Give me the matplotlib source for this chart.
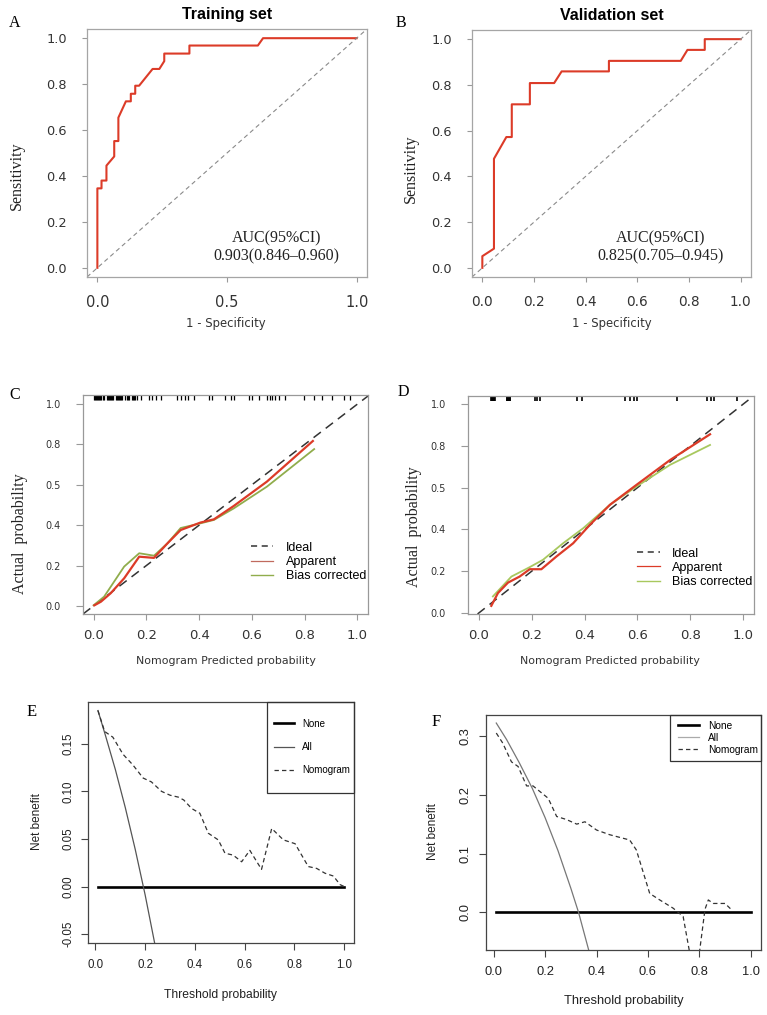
import matplotlib
matplotlib.use('Agg')
import matplotlib.pyplot as plt
from matplotlib.patches import Rectangle
from matplotlib.lines import Line2D

# ---------------- data ----------------
# ROC, training set
fpr_train = [0, 0, 0.016, 0.016, 0.035, 0.035, 0.065, 0.065, 0.081, 0.081, 0.11, 0.129, 0.129,
             0.146, 0.146, 0.161, 0.213, 0.239, 0.258, 0.258, 0.355, 0.355, 0.619, 0.639, 1.0]
tpr_train = [0, 0.346, 0.346, 0.38, 0.38, 0.445, 0.485, 0.552, 0.552, 0.654, 0.725, 0.725, 0.758,
             0.758, 0.793, 0.793, 0.866, 0.866, 0.9, 0.933, 0.933, 0.968, 0.968, 1.0, 1.0]
auc_train = "0.903(0.846\u20130.960)"
# ROC, validation set
fpr_valid = [0, 0, 0.045, 0.045, 0.093, 0.114, 0.114, 0.184, 0.184, 0.278, 0.307, 0.49, 0.49,
             0.768, 0.794, 0.861, 0.861, 1.0]
tpr_valid = [0, 0.051, 0.084, 0.477, 0.572, 0.572, 0.715, 0.715, 0.808, 0.808, 0.859, 0.859, 0.905,
             0.905, 0.953, 0.953, 1.0, 1.0]
auc_valid = "0.825(0.705\u20130.945)"

# Calibration, training
predC_app = [0.003, 0.028, 0.065, 0.116, 0.173, 0.229, 0.28, 0.33, 0.405, 0.456, 0.531, 0.657, 0.831]
obsC_app = [0.003, 0.021, 0.063, 0.137, 0.244, 0.238, 0.31, 0.376, 0.413, 0.429, 0.495, 0.616, 0.817]
predC_bc = [0.0, 0.04, 0.116, 0.173, 0.229, 0.28, 0.33, 0.405, 0.456, 0.531, 0.657, 0.836]
obsC_bc = [0.003, 0.046, 0.195, 0.261, 0.249, 0.31, 0.386, 0.409, 0.426, 0.483, 0.591, 0.777]
rugC = [0.002, 0.006, 0.01, 0.014, 0.018, 0.022, 0.026, 0.03, 0.034, 0.038, 0.05, 0.054, 0.058,
        0.062, 0.066, 0.07, 0.074, 0.084, 0.088, 0.092, 0.096, 0.1, 0.104, 0.108, 0.121, 0.125,
        0.129, 0.133, 0.146, 0.15, 0.154, 0.158, 0.165, 0.178, 0.21, 0.222, 0.235, 0.254, 0.317,
        0.33, 0.348, 0.357, 0.38, 0.437, 0.45, 0.5, 0.521, 0.531, 0.588, 0.601, 0.626, 0.658,
        0.667, 0.677, 0.686, 0.702, 0.727, 0.797, 0.835, 0.866, 0.904, 0.948, 0.973]
# Calibration, validation
predD_app = [0.048, 0.073, 0.111, 0.155, 0.193, 0.237, 0.294, 0.357, 0.42, 0.496, 0.596, 0.723, 0.874]
obsD_app = [0.035, 0.096, 0.146, 0.175, 0.21, 0.21, 0.271, 0.334, 0.422, 0.518, 0.613, 0.732, 0.855]
predD_bc = [0.054, 0.124, 0.193, 0.243, 0.319, 0.395, 0.496, 0.596, 0.723, 0.874]
obsD_bc = [0.08, 0.175, 0.22, 0.255, 0.334, 0.406, 0.518, 0.605, 0.709, 0.804]
rugD = [0.048, 0.05, 0.052, 0.054, 0.056, 0.058, 0.06, 0.062, 0.106, 0.108, 0.11, 0.112, 0.114,
        0.116, 0.118, 0.12, 0.213, 0.222, 0.232, 0.37, 0.39, 0.554, 0.57, 0.585, 0.6, 0.751,
        0.863, 0.876, 0.888, 0.975]
calib_yticks = [0.0, 0.2, 0.4, 0.6, 0.8, 1.0]
calib_ylabels = ["0.0", "0.2", "0.4", "0.5", "0.8", "1.0"]

# Decision curves, training
thrE_none = [0.01, 1.0]
nbE_none = [0.0, 0.0]
thrE_all = [0.01, 0.04, 0.08, 0.12, 0.16, 0.20, 0.24]
nbE_all = [0.185, 0.159, 0.123, 0.083, 0.039, -0.009, -0.062]
thrE_nom = [0.01, 0.037, 0.07, 0.111, 0.15, 0.192, 0.225, 0.266, 0.30, 0.333, 0.355, 0.387, 0.42,
            0.454, 0.494, 0.521, 0.554, 0.588, 0.621, 0.668, 0.709, 0.756, 0.803, 0.856, 0.89,
            0.923, 0.957, 0.984, 1.0]
nbE_nom = [0.185, 0.163, 0.157, 0.139, 0.128, 0.114, 0.110, 0.100, 0.096, 0.094, 0.091, 0.082,
           0.077, 0.056, 0.049, 0.035, 0.033, 0.026, 0.038, 0.018, 0.061, 0.049, 0.045, 0.021,
           0.019, 0.014, 0.011, 0.002, 0.0]
# Decision curves, validation
thrF_none = [0.01, 1.0]
nbF_none = [0.0, 0.0]
thrF_all = [0.01, 0.05, 0.10, 0.15, 0.20, 0.25, 0.30, 0.33, 0.37]
nbF_all = [0.322, 0.294, 0.254, 0.211, 0.161, 0.105, 0.041, 0.0, -0.065]
thrF_nom = [0.01, 0.035, 0.069, 0.095, 0.128, 0.153, 0.212, 0.245, 0.282, 0.323, 0.355, 0.40,
            0.451, 0.529, 0.555, 0.607, 0.646, 0.698, 0.737, 0.763, 0.78, 0.80, 0.822, 0.835,
            0.854, 0.90, 0.926]
nbF_nom = [0.305, 0.288, 0.256, 0.248, 0.215, 0.215, 0.194, 0.163, 0.158, 0.150, 0.154, 0.140,
           0.132, 0.123, 0.106, 0.032, 0.021, 0.007, -0.007, -0.07, -0.12, -0.07, 0.005, 0.021,
           0.015, 0.015, 0.004]

# ---------------- layout helpers ----------------
W, H = 767, 1015
fig = plt.figure(figsize=(W / 100, H / 100), dpi=100)
SERIF = 'Liberation Serif'
SANS = 'DejaVu Sans'
ARIAL = 'Liberation Sans'
RED = '#dc3b28'


def ax_at(l, t, r, b):
    return fig.add_axes([l / W, 1 - b / H, (r - l) / W, (b - t) / H])


def ftext(x, y, s, **kw):
    fig.text(x / W, 1 - y / H, s, **kw)


def style_box(ax, color, lw=0.9):
    for s in ax.spines.values():
        s.set_color(color)
        s.set_linewidth(lw)
    ax.tick_params(top=False, right=False)


# ---------------- A / B : ROC ----------------
def roc_panel(box, fpr, tpr, auc, xticks, xfs, title, letter, letter_xy, ylab_xy, xlab_xy, title_x):
    ax = ax_at(*box)
    ax.plot(fpr, tpr, color=RED, lw=1.5)
    ax.axline((0, 0), (1, 1), color='#8a8a8a', lw=0.8, ls=(0, (4, 3)))
    ax.set_xlim(-0.04, 1.04)
    ax.set_ylim(-0.04, 1.04)
    style_box(ax, '#a5a5a5')
    ax.set_xticks(xticks)
    ax.set_xticklabels([f'{v:.1f}' for v in xticks], fontfamily=SANS, fontsize=xfs, color='#333333')
    yt = [0.0, 0.2, 0.4, 0.6, 0.8, 1.0]
    ax.set_yticks(yt)
    ax.set_yticklabels([f'{v:.1f}' for v in yt], fontfamily=SANS, fontsize=9.3, color='#333333')
    ax.tick_params(axis='y', length=3.6, width=0.8, color='#999999', pad=11)
    ax.tick_params(axis='x', length=3.6, width=0.8, color='#999999', pad=9.5)
    ax.text(0.69, 0.127, 'AUC(95%CI)', fontfamily=SERIF, fontsize=11.5, ha='center', va='center',
            color='#222222')
    ax.text(0.69, 0.048, auc, fontfamily=SERIF, fontsize=11.5, ha='center', va='center',
            color='#222222')
    ftext(title_x, 15, title, fontfamily=ARIAL, fontweight='bold', fontsize=11.5,
          ha='center', va='center')
    ftext(*letter_xy, letter, fontfamily=SERIF, fontsize=11.5, ha='center', va='center')
    ftext(*ylab_xy, 'Sensitivity', fontfamily=SERIF, fontsize=11.5, rotation=90,
          ha='center', va='center', color='#222222')
    ftext(*xlab_xy, '1 - Specificity', fontfamily=SANS, fontsize=8.4, ha='center', va='center',
          color='#333333')
    return ax


roc_panel((87, 29, 367, 277), fpr_train, tpr_train, auc_train, [0.0, 0.5, 1.0], 10.5,
          'Training set', 'A', (15, 23), (17, 176), (226, 323), 227)
roc_panel((472, 30, 751, 277), fpr_valid, tpr_valid, auc_valid,
          [0.0, 0.2, 0.4, 0.6, 0.8, 1.0], 9.8,
          'Validation set', 'B', (401, 23), (411, 169), (612, 323), 612)


# ---------------- C / D : calibration ----------------
def calib_panel(box, ylim, pa, oa, pb, ob, rug, rug_y, rug_lw, green, letter, letter_xy, ylab_xy,
                xlab_xy, leg_anchor, leg_red):
    ax = ax_at(*box)
    ax.axline((0, 0), (1, 1), color='#333333', lw=1.1, ls=(0, (6, 4)), label='Ideal')
    ax.plot(pb, ob, color=green, lw=1.3)
    ax.plot(pa, oa, color=RED, lw=1.6)
    ax.vlines(rug, rug_y[0], rug_y[1], color='black', lw=rug_lw)
    ax.set_xlim(-0.04, 1.04)
    ax.set_ylim(*ylim)
    style_box(ax, '#999999')
    xt = [0.0, 0.2, 0.4, 0.6, 0.8, 1.0]
    ax.set_xticks(xt)
    ax.set_xticklabels([f'{v:.1f}' for v in xt], fontfamily=SANS, fontsize=9.5, color='#333333')
    ax.set_yticks(calib_yticks)
    ax.set_yticklabels(calib_ylabels, fontfamily=SANS, fontsize=7, color='#333333')
    ax.tick_params(axis='y', length=5, width=0.8, color='#999999', pad=11)
    ax.tick_params(axis='x', length=4.5, width=0.8, color='#999999', pad=6)
    handles = [Line2D([], [], color='#333333', lw=1.1, ls=(0, (4, 3))),
               Line2D([], [], color=leg_red, lw=0.9),
               Line2D([], [], color=green, lw=1.0)]
    ax.legend(handles, ['Ideal', 'Apparent', 'Bias corrected'], loc='upper left',
              bbox_to_anchor=leg_anchor, frameon=False, borderpad=0, borderaxespad=0,
              handlelength=1.8, handletextpad=1.0, labelspacing=0.18,
              prop={'family': ARIAL, 'size': 9})
    ftext(*letter_xy, letter, fontfamily=SERIF, fontsize=11.5, ha='center', va='center')
    ftext(*ylab_xy, 'Actual  probability', fontfamily=SERIF, fontsize=11.5, rotation=90,
          ha='center', va='center', color='#222222')
    ftext(*xlab_xy, 'Nomogram Predicted probability', fontfamily=SANS, fontsize=7.9,
          ha='center', va='center', color='#333333')
    return ax


calib_panel((83, 395, 368, 614), (-0.04, 1.045), predC_app, obsC_app, predC_bc, obsC_bc,
            rugC, (1.02, 1.045), 0.9, '#90ad4c', 'C', (15, 395), (20, 534), (226, 661),
            (0.588, 0.33), '#c06a5e')
calib_panel((468, 396, 754, 614), (-0.004, 1.038), predD_app, obsD_app, predD_bc, obsD_bc,
            rugD, (1.016, 1.038), 1.2, '#a8c85e', 'D', (403, 392), (414, 527), (610, 661),
            (0.591, 0.305), RED)


# ---------------- E / F : decision curves ----------------
def dca_panel(box, ylim, yticks, tn, nn, ta, na, tm, nm, all_color, all_leg_color, fs_tick,
              letter, letter_xy, ylab_xy, xlab_xy, xlab_fs, leg_rect, leg_anchor, leg_spacing,
              leg_fs, ytick_pad, xtick_pad):
    ax = ax_at(*box)
    ax.plot(tn, nn, color='black', lw=1.9)
    ax.plot(ta, na, color=all_color, lw=0.9)
    ax.plot(tm, nm, color='#333333', lw=0.9, ls=(0, (3.5, 2.5)))
    ax.set_xlim(-0.03, 1.04)
    ax.set_ylim(*ylim)
    style_box(ax, '#444444', 0.9)
    xt = [0.0, 0.2, 0.4, 0.6, 0.8, 1.0]
    ax.set_xticks(xt)
    ax.set_xticklabels([f'{v:.1f}' for v in xt], fontfamily=ARIAL, fontsize=fs_tick, color='#222222')
    ax.set_yticks(yticks)
    fmt = '{:.2f}' if yticks[1] - yticks[0] < 0.1 else '{:.1f}'
    ax.set_yticklabels([fmt.format(v) for v in yticks], fontfamily=ARIAL, fontsize=fs_tick,
                       color='#222222', rotation=90, va='center')
    ax.tick_params(axis='y', length=5.3, width=0.8, color='#444444', pad=ytick_pad)
    ax.tick_params(axis='x', length=5.3, width=0.8, color='#444444', pad=xtick_pad)
    ax.add_patch(Rectangle((leg_rect[0], leg_rect[1]), 1 - leg_rect[0], 1 - leg_rect[1],
                           transform=ax.transAxes, fill=False, edgecolor='#333333', lw=0.9,
                           clip_on=False, zorder=5))
    handles = [Line2D([], [], color='black', lw=1.9),
               Line2D([], [], color=all_leg_color, lw=0.9),
               Line2D([], [], color='#333333', lw=0.9, ls=(0, (3.5, 2.5)))]
    ax.legend(handles, ['None', 'All', 'Nomogram'], loc='upper left', bbox_to_anchor=leg_anchor,
              frameon=False, borderpad=0, borderaxespad=0, handlelength=2.0,
              handletextpad=0.9, labelspacing=leg_spacing, prop={'family': ARIAL, 'size': leg_fs})
    ftext(*letter_xy, letter, fontfamily=SERIF, fontsize=12, ha='center', va='center')
    ftext(*ylab_xy, 'Net benefit', fontfamily=ARIAL, fontsize=8.5, rotation=90,
          ha='center', va='center', color='#222222')
    ftext(*xlab_xy, 'Threshold probability', fontfamily=ARIAL, fontsize=xlab_fs,
          ha='center', va='center', color='#222222')
    return ax


dca_panel((88, 702, 354, 943), (-0.0594, 0.194), [-0.05, 0.0, 0.05, 0.10, 0.15],
          thrE_none, nbE_none, thrE_all, nbE_all, thrE_nom, nbE_nom, '#555555', '#555555', 8.3,
          'E', (32, 712), (37, 822), (221, 995), 8.7, (0.6725, 0.622), (0.70, 0.93), 1.35, 7.0,
          4.5, 6.5)
dca_panel((486, 715, 761, 950), (-0.0642, 0.3357), [0.0, 0.1, 0.2, 0.3],
          thrF_none, nbF_none, thrF_all, nbF_all, thrF_nom, nbF_nom, '#777777', '#aaaaaa', 9.3,
          'F', (436, 722), (433, 832), (624, 1001), 9.3, (0.668, 0.804), (0.699, 0.975), 0.2, 7.3,
          5.0, 6.5)

fig.savefig('out.png', dpi=100)
